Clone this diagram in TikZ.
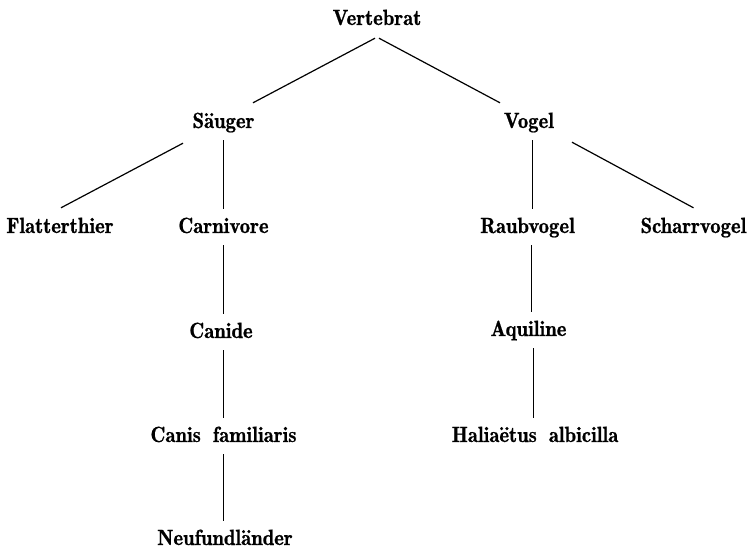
\documentclass[tikz,border=0pt]{standalone}
\usepackage{fontspec}
\usetikzlibrary{calc}
% semi-bold Modern face, slightly condensed and emboldened
\newfontfamily\taxfam{lmromandemi10-regular.otf}[FakeStretch=0.94,FakeBold=0.8]
\newcommand\taxfont{\fontsize{22}{26}\taxfam}
\newcommand\wsep{\hspace{12pt}}
\begin{document}
\begin{tikzpicture}[x=1pt,y=-1pt,
  taxon/.style={anchor=base,inner sep=0pt,text height=15pt,text depth=4pt,font=\taxfont},
  branch/.style={line width=1.2pt},
  stem/.style={line width=0.9pt,shorten <=8pt,shorten >=9pt}]
  \useasboundingbox (0,0) rectangle (753,549);
  % taxa, placed by their baselines
  \node[taxon] (vert)  at (377,25)  {Vertebrat};
  \node[taxon] (saeug) at (223.5,128) {Säuger};
  \node[taxon] (vogel) at (529,128) {Vogel};
  \node[taxon] (flat)  at (60,233)  {Flatterthier};
  \node[taxon] (carn)  at (223.5,233) {Carnivore};
  \node[taxon] (raub)  at (527.5,233) {Raubvogel};
  \node[taxon] (scharr) at (693.5,233) {Scharrvogel};
  \node[taxon] (canide) at (221,338) {Canide};
  \node[taxon] (aquil) at (528.5,336) {Aquiline};
  \node[taxon] (canis) at (223.5,442) {Canis\wsep familiaris};
  \node[taxon] (hali)  at (535,442) {Haliaëtus\wsep albicilla};
  \node[taxon] (neuf)  at (225,545) {Neufundländer};
  % oblique branches
  \draw[branch] ($(vert.south)+(-2,9)$) -- ($(saeug.north)+(29.5,-10)$);
  \draw[branch] ($(vert.south)+(2,9)$) -- ($(vogel.north)+(-29,-10)$);
  \draw[branch] ($(saeug.south)+(-40.5,11)$) -- ($(flat.north)+(1,-10)$);
  \draw[branch] ($(vogel.south)+(43,10)$) -- ($(scharr.north)+(0,-10)$);
  % vertical stems
  \draw[stem] (saeug.south) -- (saeug.south |- carn.north);
  \draw[stem] (carn.south) -- (carn.south |- canide.north);
  \draw[stem] ([xshift=2pt]canide.south) -- ([xshift=2pt]canide.south |- canis.north);
  \draw[stem] (canis.south) -- (canis.south |- neuf.north);
  \draw[stem] ([xshift=3pt]vogel.south) -- ([xshift=3pt]vogel.south |- raub.north);
  \draw[stem] ([xshift=3.5pt]raub.south) -- ([xshift=3.5pt]raub.south |- aquil.north);
  \draw[stem] ([xshift=4.5pt]aquil.south) -- ([xshift=4.5pt]aquil.south |- hali.north);
\end{tikzpicture}
\end{document}
